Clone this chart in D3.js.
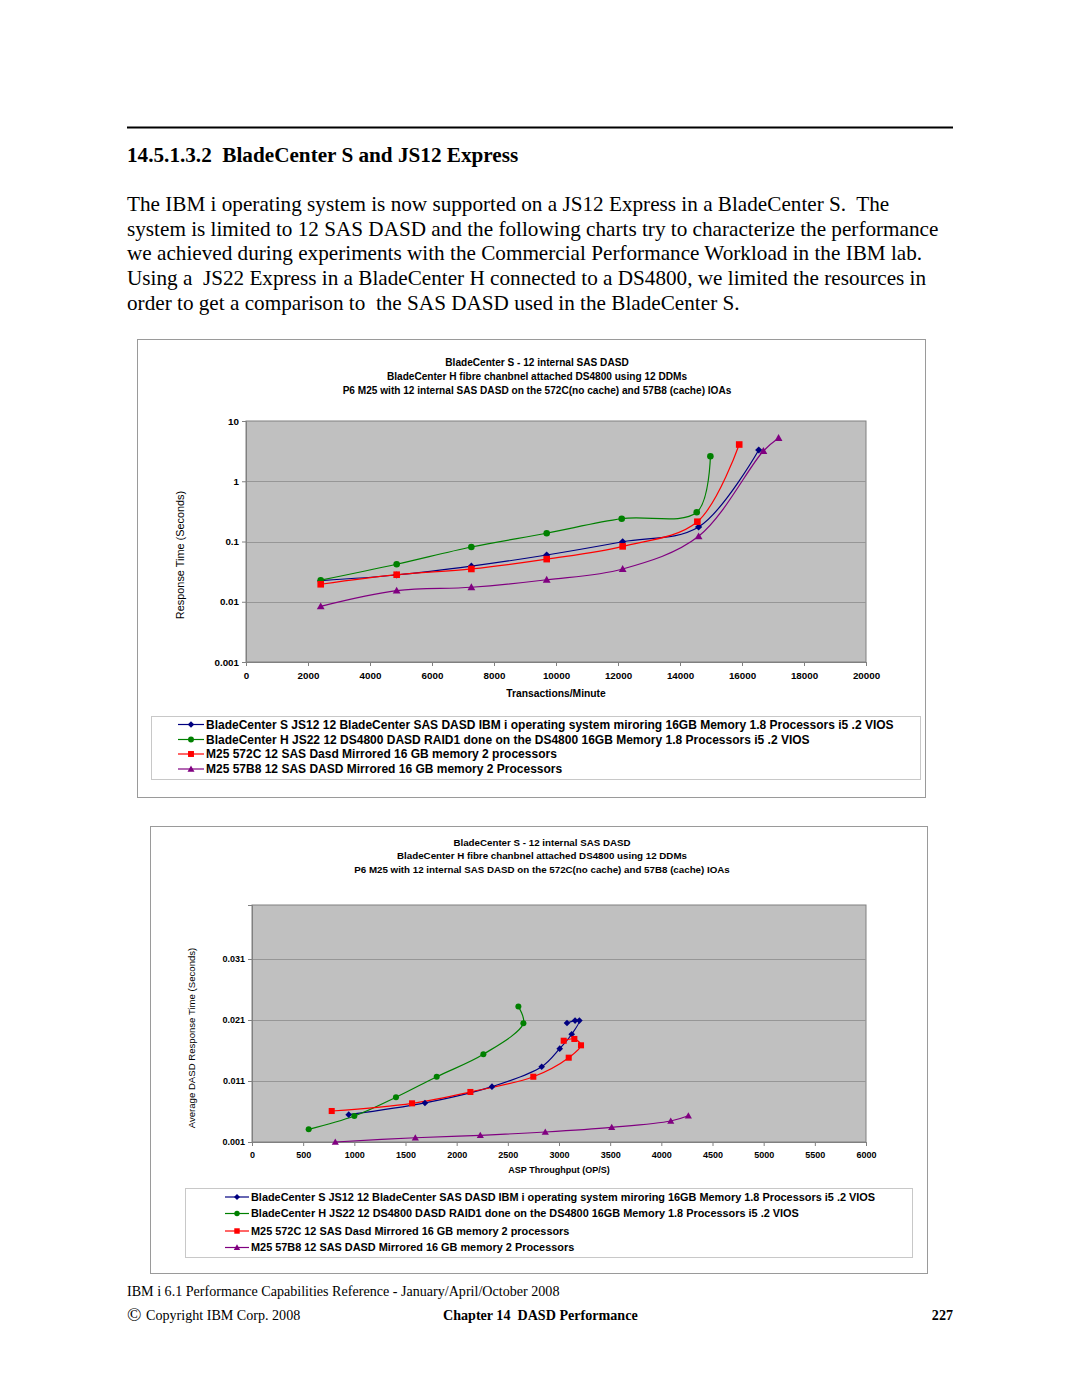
<!DOCTYPE html>
<html><head><meta charset="utf-8">
<script src="https://cdn.jsdelivr.net/npm/d3@7/dist/d3.min.js"></script>
<style>
html,body{margin:0;padding:0;background:#fff;}
svg{display:block;}
text{white-space:pre;}
</style></head>
<body>
<svg id="page" width="1080" height="1397" xml:space="preserve"></svg>
<script>
// ---------- DATA ----------
const seriesNames = [
  "BladeCenter S JS12 12 BladeCenter SAS DASD IBM i operating system miroring 16GB Memory 1.8 Processors i5 .2 VIOS",
  "BladeCenter H JS22 12 DS4800 DASD RAID1 done on the DS4800 16GB Memory 1.8 Processors i5 .2 VIOS",
  "M25 572C 12 SAS Dasd Mirrored 16 GB memory 2 processors",
  "M25 57B8 12 SAS DASD Mirrored 16 GB memory 2 Processors"
];
const seriesColors = ["#000080", "#008000", "#ff0000", "#800080"];
const seriesMarkers = ["diamond", "circle", "square", "triangle"];

// Chart 1: Transactions/Minute vs Response Time (s)
const c1BladeS = [[2410,0.0224],[4860,0.0278],[7270,0.039],[9700,0.0597],[12150,0.099],[14600,0.174],[16540,3.3]];
const c1BladeH = [[2410,0.0228],[4860,0.0419],[7270,0.081],[9700,0.137],[12120,0.239],[14540,0.305],[14980,2.6]];
const c1M25_572C = [[2410,0.0195],[4860,0.0281],[7270,0.035],[9700,0.051],[12150,0.083],[14560,0.213],[15910,4.07]];
const c1M25_57B8 = [[2410,0.0084],[4860,0.0153],[7270,0.0174],[9700,0.0232],[12150,0.035],[14600,0.122],[16690,3.18],[17180,5.23]];
const c1XTicks = [0,2000,4000,6000,8000,10000,12000,14000,16000,18000,20000];
const c1YTicks = [0.001,0.01,0.1,1,10];
const c1YTickLabels = ["0.001","0.01","0.1","1","10"];

// Chart 2: ASP Throughput (OP/S) vs Average DASD Response Time (s)
const c2BladeS = [[945,0.00548],[1690,0.0074],[2345,0.01007],[2831,0.01334],[3007,0.0163],[3124,0.01866],[3199,0.0209],[3157,0.0209],[3078,0.0205]];
const c2BladeH = [[554,0.00308],[1000,0.00526],[1407,0.00833],[1805,0.0117],[2261,0.01538],[2652,0.02046],[2603,0.0232]];
const c2M25_572C = [[779,0.00608],[1564,0.00734],[2134,0.0092],[2749,0.0117],[3095,0.01482],[3215,0.01685],[3150,0.01789],[3046,0.0176]];
const c2M25_57B8 = [[814,0.001],[1596,0.0017],[2231,0.0021],[2866,0.00264],[3515,0.0034],[4092,0.00444],[4264,0.0053]];
const c2XTicks = [0,500,1000,1500,2000,2500,3000,3500,4000,4500,5000,5500,6000];
const c2YTicks = [0.001,0.011,0.021,0.031];
const c2YTickLabels = ["0.001","0.011","0.021","0.031"];

const chartTitles = [
  "BladeCenter S - 12 internal SAS DASD",
  "BladeCenter H fibre chanbnel attached DS4800 using 12 DDMs",
  "P6 M25 with 12 internal SAS DASD on the 572C(no cache) and 57B8 (cache) IOAs"
];

const headingText = "14.5.1.3.2  BladeCenter S and JS12 Express";
const paragraphLines = [
  "The IBM i operating system is now supported on a JS12 Express in a BladeCenter S.  The",
  "system is limited to 12 SAS DASD and the following charts try to characterize the performance",
  "we achieved during experiments with the Commercial Performance Workload in the IBM lab.",
  "Using a  JS22 Express in a BladeCenter H connected to a DS4800, we limited the resources in",
  "order to get a comparison to  the SAS DASD used in the BladeCenter S."
];

// ---------- DRAW ----------
const svg = d3.select("#page");
const serif = "'Liberation Serif','Times New Roman',serif";
const sans = "'Liberation Sans',Arial,Helvetica,sans-serif";

// page header rule
svg.append("line").attr("x1",127).attr("x2",953).attr("y1",127.5).attr("y2",127.5)
  .attr("stroke","#000").attr("stroke-width",2);
svg.append("text").attr("x",127).attr("y",162).attr("font-family",serif)
  .attr("font-weight","bold").attr("font-size",21.2).attr("fill","#000").text(headingText);
paragraphLines.forEach((t,i)=>{
  svg.append("text").attr("x",127).attr("y",211+i*24.7).attr("font-family",serif)
    .attr("font-size",21.2).attr("fill","#000").text(t);
});

function marker(g, type, x, y, color, s){
  if(type==="circle"){
    g.append("circle").attr("cx",x).attr("cy",y).attr("r",s*0.55).attr("fill",color);
  } else if(type==="square"){
    g.append("rect").attr("x",x-s*0.55).attr("y",y-s*0.55).attr("width",s*1.1).attr("height",s*1.1).attr("fill",color);
  } else if(type==="diamond"){
    const r=s*0.6;
    g.append("path").attr("d",`M${x},${y-r}L${x+r},${y}L${x},${y+r}L${x-r},${y}Z`).attr("fill",color);
  } else {
    const r=s*0.65;
    g.append("path").attr("d",`M${x},${y-r}L${x+r},${y+r*0.75}L${x-r},${y+r*0.75}Z`).attr("fill",color);
  }
}

function drawChart(cfg){
  const g = svg.append("g");
  g.append("rect").attr("x",cfg.frame[0]+0.5).attr("y",cfg.frame[1]+0.5)
    .attr("width",cfg.frame[2]-cfg.frame[0]).attr("height",cfg.frame[3]-cfg.frame[1])
    .attr("fill","#fff").attr("stroke","#9a9a9a").attr("stroke-width",1);
  chartTitles.forEach((t,i)=>{
    g.append("text").attr("x",cfg.titleX).attr("y",cfg.titleY+i*cfg.titleGap)
      .attr("text-anchor","middle").attr("font-family",sans).attr("font-weight","bold")
      .attr("font-size",cfg.titleSize).attr("fill","#000").text(t);
  });
  const [L,T,R,B] = cfg.plot;
  const x = d3.scaleLinear().domain(cfg.xDomain).range([L,R]);
  const y = (cfg.log ? d3.scaleLog() : d3.scaleLinear()).domain(cfg.yDomain).range([B,T]);
  g.append("rect").attr("x",L).attr("y",T).attr("width",R-L).attr("height",B-T)
    .attr("fill","#c0c0c0").attr("stroke","#808080").attr("stroke-width",1);
  // gridlines
  g.append("g").selectAll("line").data(cfg.yTicks.filter(v=>Math.abs(y(v)-B)>1 && Math.abs(y(v)-T)>1)).join("line")
    .attr("x1",L).attr("x2",R).attr("y1",d=>Math.round(y(d))+0.5).attr("y2",d=>Math.round(y(d))+0.5)
    .attr("stroke","#969696").attr("stroke-width",1);
  // axes
  const xAxis = d3.axisBottom(x).tickValues(cfg.xTicks).tickSize(4).tickPadding(6).tickFormat(d3.format("d"));
  const xa = g.append("g").attr("transform",`translate(0,${B})`).call(xAxis);
  const yAxis = d3.axisLeft(y).tickValues(cfg.yTicks).tickSize(4).tickPadding(3)
    .tickFormat((d,i)=>cfg.yLabels[i]);
  const ya = g.append("g").attr("transform",`translate(${L},0)`).call(yAxis);
  [xa,ya].forEach(a=>{
    a.selectAll("path,line").attr("stroke","#808080");
    a.selectAll("text").attr("font-family",sans).attr("font-weight","bold").attr("font-size",cfg.tickSize).attr("fill","#000");
  });
  g.append("text").attr("x",cfg.xTitlePos[0]).attr("y",cfg.xTitlePos[1]).attr("text-anchor","middle")
    .attr("font-family",sans).attr("font-weight","bold").attr("font-size",cfg.xTitleSize).text(cfg.xTitle);
  g.append("text").attr("transform",`translate(${cfg.yTitlePos[0]},${cfg.yTitlePos[1]}) rotate(-90)`)
    .attr("text-anchor","middle").attr("font-family",sans).attr("font-size",cfg.yTitleSize).text(cfg.yTitle);
  // series
  const line = d3.line().x(d=>x(d[0])).y(d=>y(d[1])).curve(d3.curveCatmullRom.alpha(0.5));
  cfg.series.forEach((s,i)=>{
    g.append("path").attr("d",line(s)).attr("fill","none").attr("stroke",seriesColors[i]).attr("stroke-width",1.2);
  });
  cfg.series.forEach((s,i)=>{
    s.forEach(d=>marker(g,seriesMarkers[i],x(d[0]),y(d[1]),seriesColors[i],cfg.markerSize));
  });
  // legend
  const [lx0,ly0,lx1,ly1] = cfg.legendBox;
  g.append("rect").attr("x",lx0+0.5).attr("y",ly0+0.5).attr("width",lx1-lx0).attr("height",ly1-ly0)
    .attr("fill","#fff").attr("stroke","#c8c8c8");
  seriesNames.forEach((n,i)=>{
    const yy = cfg.legendY[i];
    g.append("line").attr("x1",cfg.legendLine[0]).attr("x2",cfg.legendLine[1]).attr("y1",yy).attr("y2",yy)
      .attr("stroke",seriesColors[i]).attr("stroke-width",1.2);
    marker(g,seriesMarkers[i],(cfg.legendLine[0]+cfg.legendLine[1])/2,yy,seriesColors[i],cfg.markerSize*0.9);
    g.append("text").attr("x",cfg.legendLine[1]+2).attr("y",yy+cfg.legendFont*0.36).attr("font-family",sans)
      .attr("font-weight","bold").attr("font-size",cfg.legendFont).attr("fill","#000").text(n);
  });
}

drawChart({
  frame:[137,339,925,797], titleX:537, titleY:365.5, titleGap:14, titleSize:10.1,
  plot:[246,421,866,662], xDomain:[0,20000], yDomain:[0.001,10], log:true,
  xTicks:c1XTicks, yTicks:c1YTicks, yLabels:c1YTickLabels, tickSize:9.8,
  xTitle:"Transactions/Minute", xTitlePos:[556,696.5], xTitleSize:10.3,
  yTitle:"Response Time (Seconds)", yTitlePos:[184,555], yTitleSize:10.9,
  series:[c1BladeS,c1BladeH,c1M25_572C,c1M25_57B8], markerSize:6,
  legendBox:[151,716,920,779], legendY:[724.5,739.5,754,769], legendLine:[178,204], legendFont:12
});

drawChart({
  frame:[150,826,927,1273], titleX:542, titleY:845.5, titleGap:13.5, titleSize:9.75,
  plot:[252,905,866,1142], xDomain:[0,6000], yDomain:[0.001,0.03985], log:false,
  xTicks:c2XTicks, yTicks:c2YTicks, yLabels:c2YTickLabels, tickSize:9,
  xTitle:"ASP Throughput (OP/S)", xTitlePos:[559,1173], xTitleSize:9,
  yTitle:"Average DASD Response Time (Seconds)", yTitlePos:[195,1038], yTitleSize:9.6,
  series:[c2BladeS,c2BladeH,c2M25_572C,c2M25_57B8], markerSize:5.5,
  legendBox:[185,1188,912,1257], legendY:[1197,1213.5,1231,1247.5], legendLine:[225,249], legendFont:10.9
});

// footer
svg.append("text").attr("x",127).attr("y",1296).attr("font-family",serif).attr("font-size",14.1).text("IBM i 6.1 Performance Capabilities Reference - January/April/October 2008");
svg.append("text").attr("x",127).attr("y",1321).attr("font-family",serif).attr("font-size",19).text("\u00A9");
svg.append("text").attr("x",146).attr("y",1320).attr("font-family",serif).attr("font-size",14.1).text("Copyright IBM Corp. 2008");
svg.append("text").attr("x",443).attr("y",1320).attr("font-family",serif).attr("font-weight","bold").attr("font-size",14.1).text("Chapter 14  DASD Performance");
svg.append("text").attr("x",953).attr("y",1320).attr("text-anchor","end").attr("font-family",serif).attr("font-weight","bold").attr("font-size",14.1).text("227");
</script>
</body></html>
